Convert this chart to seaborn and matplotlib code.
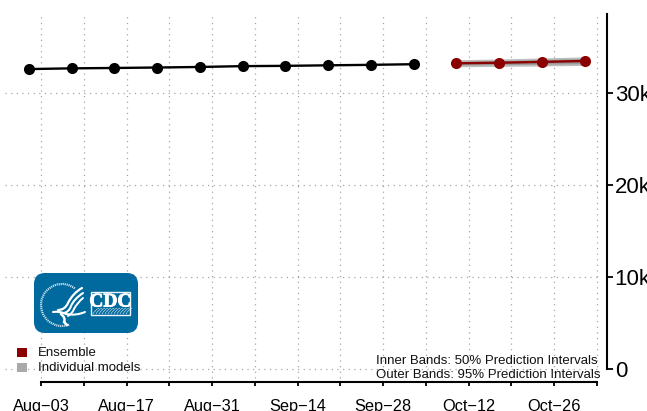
import matplotlib
matplotlib.use("Agg")
import matplotlib.pyplot as plt
import matplotlib.dates as mdates
import matplotlib.patheffects as pe
from matplotlib.patches import FancyBboxPatch, Rectangle, Arc, PathPatch
from matplotlib.path import Path
from matplotlib.transforms import Affine2D
import pandas as pd
import seaborn as sns

obs_dates = ["2020-08-01","2020-08-08","2020-08-15","2020-08-22","2020-08-29",
             "2020-09-05","2020-09-12","2020-09-19","2020-09-26","2020-10-03"]
obs_values = [32600,32680,32720,32770,32830,32920,32950,33010,33060,33130]
fc_dates = ["2020-10-10","2020-10-17","2020-10-24","2020-10-31"]
ens_values = [33230,33290,33380,33480]
lo50 = [33040,33080,33130,33190]
hi50 = [33420,33520,33640,33760]
lo95 = [32850,32890,32940,33000]
hi95 = [33620,33700,33810,33930]
tick_dates = ["2020-08-03","2020-08-17","2020-08-31","2020-09-14","2020-09-28","2020-10-12","2020-10-26"]
tick_labels = ["Aug\u221203","Aug\u221217","Aug\u221231","Sep\u221214","Sep\u221228","Oct\u221212","Oct\u221226"]
y_ticks = [0,10000,20000,30000]
y_labels = ["0","10k","20k","30k"]
legend_labels = ["Ensemble","Individual models"]
notes = ["Inner Bands: 50% Prediction Intervals","Outer Bands: 95% Prediction Intervals"]

W,H = 647,411
sns.set_theme(style="white")
plt.rcParams['font.family'] = ['Liberation Sans','DejaVu Sans']
fig = plt.figure(figsize=(W/100,H/100),dpi=100)
ax = fig.add_axes([0,0,1,1])
ax.patch.set_alpha(0)
px = Affine2D().scale(1/W,-1/H).translate(0,1)+fig.transFigure

obs = pd.DataFrame({"date":pd.to_datetime(obs_dates),"v":obs_values})
fc = pd.DataFrame({"date":pd.to_datetime(fc_dates),"v":ens_values,"l50":lo50,"h50":hi50,"l95":lo95,"h95":hi95})

d0 = mdates.date2num(pd.Timestamp("2020-08-03"))
ppd = 556/91
ax.set_xlim(d0-41/ppd,d0+(W-41)/ppd)
ax.set_ylim(-42/9.2*1000,369/9.2*1000)

weeks = pd.date_range("2020-08-03","2020-11-02",freq="7D")
gc = "#a6a6a6"
for w in weeks:
    ax.plot([w,w],[-1000,38600],color=gc,lw=0.9,ls=(0,(1,3.5)),zorder=0)
for y in y_ticks:
    ax.plot([mdates.num2date(d0-36/ppd),mdates.num2date(d0+560/ppd)],[y,y],color=gc,lw=0.9,ls=(0,(1,3.5)),zorder=0)

ax.fill_between(fc["date"],fc["l95"],fc["h95"],color="#bdbdbd",lw=0,zorder=1)
ax.fill_between(fc["date"],fc["l50"],fc["h50"],color="#9a9a9a",lw=0,zorder=2)
sns.lineplot(data=obs,x="date",y="v",color="black",lw=1.7,marker="o",markersize=8,markeredgewidth=0,ax=ax,zorder=3)
sns.lineplot(data=fc,x="date",y="v",color="#8b0000",lw=1.7,marker="o",markersize=8,markeredgewidth=0,ax=ax,zorder=4)
ax.set_xlabel("");ax.set_ylabel("")

for s in ["top","left"]:
    ax.spines[s].set_visible(False)
ax.spines["bottom"].set_position(("data",-13*1000/9.2))
ax.spines["bottom"].set_bounds(d0,d0+91)
ax.spines["right"].set_position(("data",d0+566/ppd))
ax.spines["right"].set_bounds(0,38600)
for s in ["bottom","right"]:
    ax.spines[s].set_linewidth(1.5);ax.spines[s].set_color("black")
ax.set_xticks(mdates.date2num(weeks))
lab = dict(zip(pd.to_datetime(tick_dates),tick_labels))
ax.set_xticklabels([lab.get(w,"") for w in weeks])
ax.tick_params(axis="x",bottom=True,length=3.2,width=1.3,color="black",labelsize=11.8,pad=9,labelcolor="black")
ax.set_yticks(y_ticks);ax.set_yticklabels(y_labels)
ax.yaxis.tick_right()
ax.tick_params(axis="y",right=True,left=False,length=4.5,width=1.3,color="black",labelsize=16,pad=1,labelcolor="black")

# legend and notes
for (ytop,c,t) in zip([348,363],["#8b0000","#a9a9a9"],legend_labels):
    fig.add_artist(Rectangle((17,ytop),10,9,color=c,lw=0,transform=px))
    fig.text(38/W,1-(ytop+5.2)/H,t,fontsize=9.55,va="center",ha="left",color="#111111")
fig.text(598/W,1-360.5/H,notes[0],fontsize=9.57,va="center",ha="right",color="#111111")
fig.text(601/W,1-375/H,notes[1],fontsize=9.57,va="center",ha="right",color="#111111")

# CDC logo
blue="#006a9e"
fig.add_artist(FancyBboxPatch((34,273),104,60,boxstyle="round,pad=0,rounding_size=11",lw=0,color=blue,transform=px))
fig.add_artist(Arc((62,305),42,42,theta1=70,theta2=310,ec="#d5e6f0",lw=1.6,ls=(0,(0.5,0.4)),transform=px))
def curve(pts,lw):
    codes=[Path.MOVETO]+[Path.CURVE3]*(len(pts)-1)
    fig.add_artist(PathPatch(Path(pts,codes),fill=False,ec="white",lw=lw,capstyle="round",transform=px))
curve([(82,288),(73,293),(68,303),(65,310),(58,310)],1.6)
curve([(83,293),(74,299),(71,306),(69,312),(64,313)],1.5)
curve([(83,298),(77,303),(74,309),(72,314),(68,316)],1.4)
curve([(53,312),(60,311),(66,314),(76,316),(85,312)],1.5)
curve([(61,314),(66,318),(64,322),(66,324),(67,325)],1.8)
fig.add_artist(Rectangle((91,292),39,23,fill=False,ec="#eef5f9",lw=1.0,transform=px))
for i in range(0,12):
    curve([(93+i*3,314),(95+i*3,310),(99+i*3,308)],0.35)
fig.text(110.5/W,1-302/H,"CDC",color="white",fontsize=14,fontweight="bold",family="Liberation Serif",ha="center",va="center",
         path_effects=[pe.withStroke(linewidth=0.6,foreground="white")])

fig.savefig("out.png",dpi=100)
